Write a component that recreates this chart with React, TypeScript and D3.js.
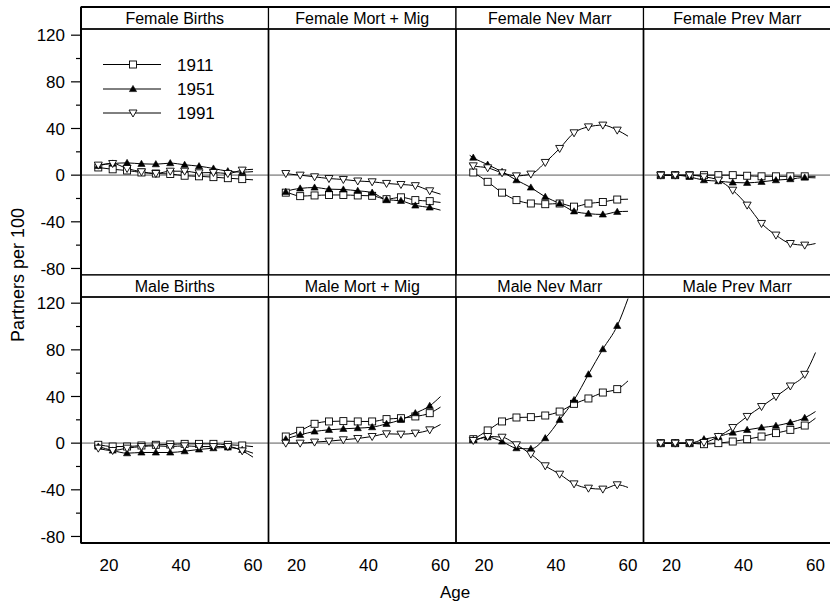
import React from 'react';
import * as d3 from 'd3';

// ages the lines run through; markers sit every 4 years from 17
const AGES = [16, 17, 21, 25, 29, 33, 37, 41, 45, 49, 53, 57, 60];
const MARKER_AGES = [17, 21, 25, 29, 33, 37, 41, 45, 49, 53, 57];
const YEARS = ['1911', '1951', '1991'];

const PANEL_TITLES = [
  'Female Births', 'Female Mort + Mig', 'Female Nev Marr', 'Female Prev Marr',
  'Male Births', 'Male Mort + Mig', 'Male Nev Marr', 'Male Prev Marr',
];

// each panel: [1911, 1951, 1991]
const FEMALE_BIRTHS = [
  [7, 6.6, 5, 4, 2.3, 1.4, 1, -0.5, -1, -1.7, -2.6, -3.4, -4],
  [7, 8, 10, 10.5, 9.7, 9.4, 10.3, 8.9, 7.7, 5.7, 3.4, 2.6, 3],
  [8, 8.6, 10, 5.7, 2.9, 1.4, 3.4, 3.4, 2, 2.3, 1.4, 4.3, 5],
];
const FEMALE_MORT = [
  [-17, -15, -18, -17.4, -17, -17, -17.4, -17.7, -20.6, -19, -21.4, -22.3, -23.4],
  [-17, -14.3, -11.4, -10.6, -12, -12.3, -13.4, -15, -21, -22, -26, -27.7, -30],
  [2, 1.4, 0, -1.4, -2.9, -3.7, -5, -5.7, -7.1, -8, -9, -13.4, -16.3],
];
const FEMALE_NEV = [
  [4, 2.3, -5.7, -15, -21.4, -24.3, -24.9, -24.3, -27, -24.3, -23, -20.9, -20.6],
  [17, 15, 9, 2.9, -4.3, -10.6, -18.6, -24.3, -31, -33, -33.7, -31.4, -31],
  [9, 8, 6.3, 2, -0.6, 0.9, 10.9, 22.9, 36.3, 41.4, 42.9, 38.6, 33.4],
];
const FEMALE_PREV = [
  [0, 0, 0, 0, 0, 0, 0, -0.5, -1, -1, -1, -1, -1],
  [0, 0, 0, -1.5, -4.3, -5.1, -6.3, -6.6, -5.7, -4.3, -3.4, -2, -2.3],
  [0, 0, 0, 0, -1.4, -4.3, -12.9, -25.7, -41.4, -51.4, -58.6, -60, -58.6],
];
const MALE_BIRTHS = [
  [-1, -1.4, -2.9, -2.9, -2, -1.4, -1.1, -0.6, -0.6, -0.6, -1.4, -2, -3],
  [-2, -2.9, -6.3, -8.6, -8, -8, -8, -6.9, -5.4, -4.3, -3.7, -5.7, -8.6],
  [-3, -4.3, -6.3, -4.3, -2.9, -2.3, -2.9, -2.3, -2.9, -2.9, -2.9, -6.6, -12],
];
const MALE_MORT = [
  [4, 5.7, 10.6, 16.6, 18.6, 18.9, 18.6, 18.6, 20.6, 21.4, 22.9, 25.7, 30.9],
  [2, 3.4, 7.1, 10, 11.4, 12.3, 12.9, 13.7, 16.6, 20, 25.7, 32, 40],
  [0, 0, 0, 0.9, 1.7, 2.9, 4, 5.7, 8, 7.7, 8.6, 11.4, 16],
];
const MALE_NEV = [
  [2, 3.4, 10.9, 18.6, 22, 22.3, 23.7, 27.1, 33.7, 38.3, 43.4, 46.3, 53.4],
  [3, 2.9, 5.1, 1.4, -4.3, -4.9, 4.3, 20, 37, 59, 80.6, 100.6, 124],
  [2, 2.3, 5.7, 5.1, -1.4, -9.4, -19.4, -26.6, -34.9, -38.6, -39.4, -35.7, -38],
];
const MALE_PREV = [
  [0, 0, 0, 0, -0.9, 0, 1.4, 3.4, 5.7, 8.6, 11.4, 15.1, 21.4],
  [0, 0, 0, 0, 3.4, 5.7, 9.1, 11.4, 13.4, 14.9, 17.7, 21.7, 27.1],
  [0, 0, 0, 0, 0.6, 5.7, 13.4, 22.9, 31.4, 40, 49, 59, 77.7],
];

const PANEL_DATA = [
  FEMALE_BIRTHS, FEMALE_MORT, FEMALE_NEV, FEMALE_PREV,
  MALE_BIRTHS, MALE_MORT, MALE_NEV, MALE_PREV,
];

const Y_MAJOR = [-80, -40, 0, 40, 80, 120];
const Y_MINOR = [-60, -20, 20, 60, 100];
const X_TICKS = [20, 40, 60];

const W = 830;
const H = 606;
const LEFT = 81;
const TOP = 7;
const STRIP = 22;
const PANEL_W = 187.5;
const PANEL_H = 246;
const FONT = 'Liberation Sans, Arial, Helvetica, sans-serif';

// marker glyphs per year
const Marker = ({ year, x, y }: { year: number; x: number; y: number }) => {
  if (year === 0) {
    return <rect x={x - 3.5} y={y - 3.5} width={7} height={7} fill="#fff" stroke="#000" strokeWidth={0.9} />;
  }
  if (year === 1) {
    return <path d={`M${x},${y - 3.6}L${x + 3.6},${y + 2.6}L${x - 3.6},${y + 2.6}Z`} fill="#000" stroke="#000" strokeWidth={0.6} />;
  }
  return <path d={`M${x - 4},${y - 3}L${x + 4},${y - 3}L${x},${y + 4}Z`} fill="#fff" stroke="#000" strokeWidth={0.9} />;
};

const App = () => {
  const rowTop = (r: number) => TOP + r * (STRIP + PANEL_H);

  const panels = PANEL_TITLES.map((title, i) => {
    const col = i % 4;
    const row = Math.floor(i / 4);
    const left = LEFT + col * PANEL_W;
    const stripTop = rowTop(row);
    const plotTop = stripTop + STRIP;
    const plotBottom = plotTop + PANEL_H;

    const x = d3.scaleLinear().domain([12.2, 64.3]).range([left, left + PANEL_W]);
    const y = d3.scaleLinear().domain([-85.6, 125.3]).range([plotBottom, plotTop]);

    const line = d3.line<number>()
      .x((_, k) => x(AGES[k]))
      .y(d => y(d))
      .curve(d3.curveMonotoneX);

    const series = PANEL_DATA[i];
    return (
      <g key={title}>
        <defs>
          <clipPath id={`clip-${i}`}>
            <rect x={left} y={plotTop} width={PANEL_W} height={PANEL_H} />
          </clipPath>
        </defs>
        {/* strip */}
        <rect x={left} y={stripTop} width={PANEL_W} height={STRIP} fill="#fff" stroke="#000" strokeWidth={1.2} />
        <text x={left + PANEL_W / 2} y={stripTop + 17} textAnchor="middle" fontSize={16} fontFamily={FONT}>{title}</text>
        <g clipPath={`url(#clip-${i})`}>
          <line x1={left} x2={left + PANEL_W} y1={y(0)} y2={y(0)} stroke="#a0a0a0" strokeWidth={1.6} />
          {series.map((vals, s) => (
            <path key={s} d={line(vals) || ''} fill="none" stroke="#000" strokeWidth={1} />
          ))}
          {series.map((vals, s) =>
            MARKER_AGES.map(a => (
              <Marker key={`${s}-${a}`} year={s} x={x(a)} y={y(vals[AGES.indexOf(a)])} />
            ))
          )}
        </g>
        <rect x={left} y={plotTop} width={PANEL_W} height={PANEL_H} fill="none" stroke="#000" strokeWidth={1.4} />
        {row === 1 && X_TICKS.map(t => (
          <text key={t} x={x(t)} y={571} textAnchor="middle" fontSize={17} fontFamily={FONT}>{t}</text>
        ))}
        {col === 0 && (
          <g>
            {Y_MAJOR.map(t => (
              <g key={t}>
                <line x1={LEFT - 10} x2={LEFT} y1={y(t)} y2={y(t)} stroke="#000" strokeWidth={1.2} />
                <text x={LEFT - 16} y={y(t)} dy="0.36em" textAnchor="end" fontSize={17} fontFamily={FONT}>{t}</text>
              </g>
            ))}
            {Y_MINOR.map(t => (
              <line key={t} x1={LEFT - 5} x2={LEFT} y1={y(t)} y2={y(t)} stroke="#000" strokeWidth={1.2} />
            ))}
          </g>
        )}
      </g>
    );
  });

  // legend inside the first panel
  const legendRows = [64.5, 89, 113];

  return (
    <svg width={W} height={H} style={{ position: 'absolute', left: 0, top: 0, background: '#fff' }}>
      <rect width={W} height={H} fill="#fff" />
      {panels}
      <line x1={LEFT} x2={LEFT} y1={TOP} y2={rowTop(2)} stroke="#000" strokeWidth={2} />
      <line x1={LEFT} x2={W} y1={TOP} y2={TOP} stroke="#000" strokeWidth={1.8} />
      <line x1={LEFT} x2={W} y1={rowTop(2)} y2={rowTop(2)} stroke="#000" strokeWidth={2} />
      {YEARS.map((yr, s) => (
        <g key={yr}>
          <line x1={103} x2={161} y1={legendRows[s]} y2={legendRows[s]} stroke="#000" strokeWidth={1} />
          <Marker year={s} x={133} y={legendRows[s]} />
          <text x={177} y={legendRows[s]} dy="0.36em" fontSize={17} fontFamily={FONT}>{yr}</text>
        </g>
      ))}
      <text x={455} y={598} textAnchor="middle" fontSize={17} fontFamily={FONT}>Age</text>
      <text transform={`translate(24,${(TOP + rowTop(2)) / 2}) rotate(-90)`} textAnchor="middle" fontSize={18} fontFamily={FONT}>Partners per 100</text>
    </svg>
  );
};

export default App;
